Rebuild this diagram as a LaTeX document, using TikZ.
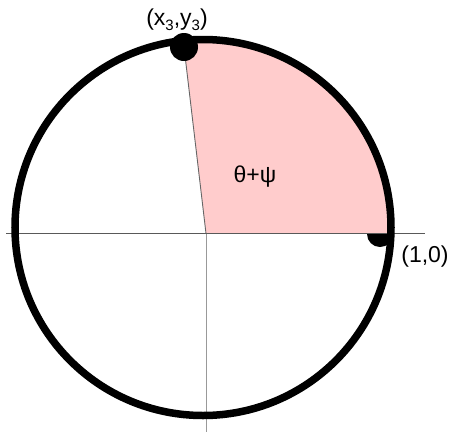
\documentclass[tikz,border=0pt]{standalone}
\usepackage{fontspec}
\setmainfont{Liberation Sans}
\begin{document}
\begin{tikzpicture}[x=1pt,y=-1pt,
  lbl/.style={font=\fontsize{23}{26}\selectfont, inner sep=0pt},
  axis/.style={draw=black!65, line width=0.9pt},
  ray/.style={draw=black!60, line width=0.9pt},
  rim/.style={draw=black, line width=7.5pt},
  dotmark/.style={fill=black}]
\useasboundingbox (0,0) rectangle (453,432);
\coordinate (C) at (203,227.5);
\coordinate (O) at (206,233.5);
\coordinate (P1) at (380,234);
\coordinate (P3) at (184,47);
\coordinate (Xl) at (6,233.5);
\coordinate (Xr) at (425,233.5);
\coordinate (Yb) at (206,432);
% dot at (1,0), upper half hidden by the sector
\fill[dotmark] (P1) circle[radius=13pt];
% pink sector
\begin{scope}
  \clip (C) circle[radius=186pt];
  \fill[red!20] (O) -- (453,233.5) -- (453,0) -- (178.4,0) -- cycle;
\end{scope}
% axes
\draw[axis] (Xl) -- (Xr);
\draw[draw=black!40, line width=0.9pt] (O) -- (Yb);
\draw[ray] (O) -- (P3);
% circle
\draw[rim] (C) circle[radius=188pt];
\fill[dotmark] (P3) circle[radius=14pt];
% labels
\node[lbl] (L3) at (177,20) {(x\raisebox{-0.35ex}{\fontsize{15}{16}\selectfont 3},y\raisebox{-0.35ex}{\fontsize{15}{16}\selectfont 3})};
\node[lbl] (L1) at (425,257) {(1,0)};
\node[lbl] (Lt) at (255,177) {θ+ψ};
\end{tikzpicture}
\end{document}
